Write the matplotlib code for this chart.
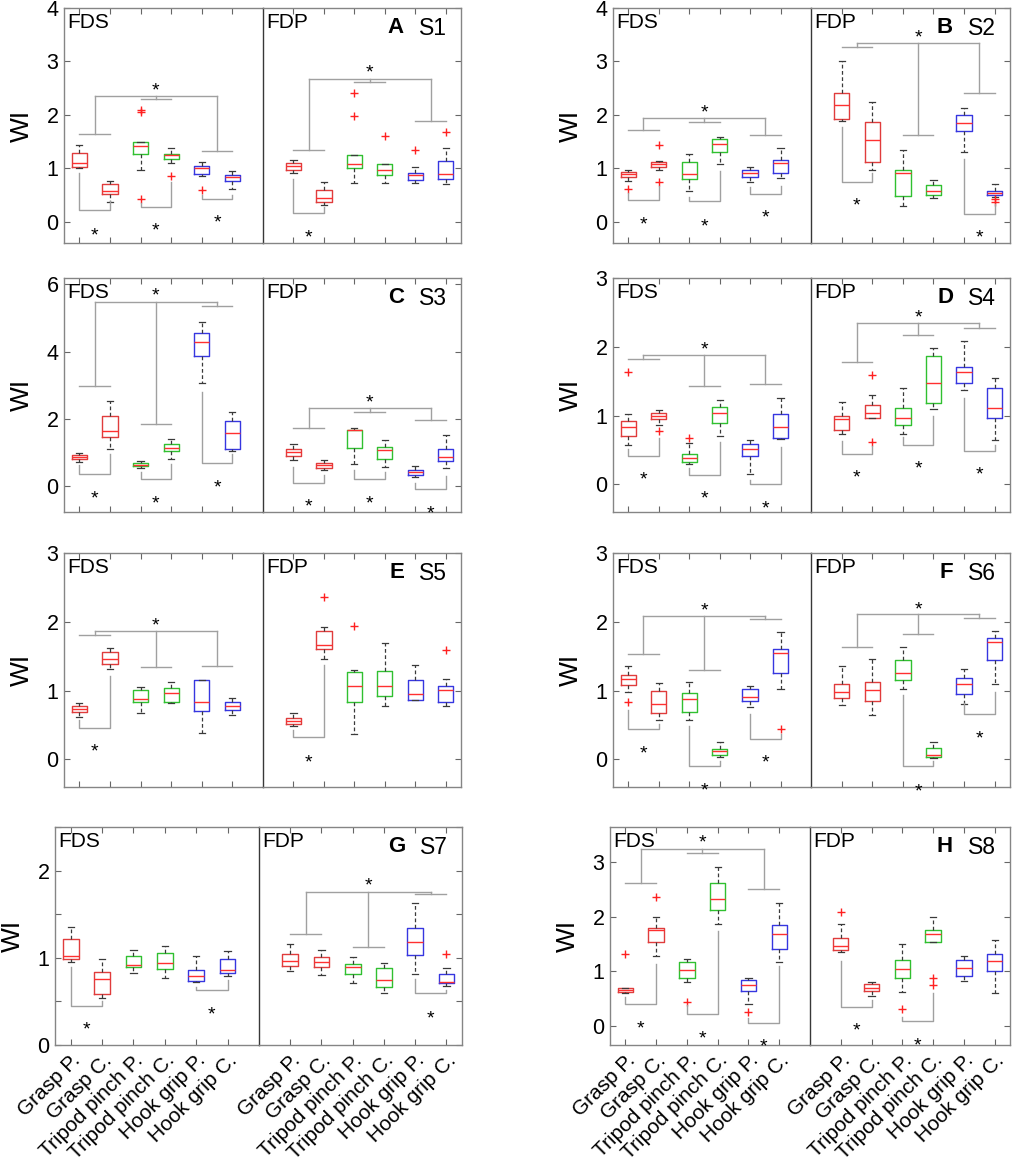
import matplotlib
matplotlib.use("Agg")
import matplotlib.pyplot as plt

plt.rcParams["font.family"] = ["Liberation Sans", "DejaVu Sans"]

TASKS = ["Grasp P.", "Grasp C.", "Tripod pinch P.", "Tripod pinch C.", "Hook grip P.", "Hook grip C."]
BOX_COLORS = ["#e03c3c", "#e03c3c", "#30c030", "#30c030", "#3636e0", "#3636e0"]

# box stats per task: [whisker low, q1, median, q3, whisker high]
A_FDS = [[1.00, 1.02, 1.09, 1.28, 1.44], [0.36, 0.51, 0.565, 0.70, 0.765], [0.96, 1.27, 1.41, 1.50, 1.50],
         [1.09, 1.18, 1.25, 1.27, 1.38], [0.86, 0.90, 1.00, 1.05, 1.11], [0.62, 0.765, 0.83, 0.87, 0.94]]
A_FDS_OUT = [[], [], [2.09, 2.05, 0.43], [0.86], [0.60], []]
A_FDP = [[0.91, 0.97, 1.05, 1.10, 1.15], [0.31, 0.36, 0.44, 0.60, 0.75], [0.72, 1.00, 1.07, 1.24, 1.24],
         [0.73, 0.88, 0.97, 1.07, 1.08], [0.72, 0.78, 0.865, 0.92, 1.03], [0.70, 0.80, 0.89, 1.13, 1.38]]
A_FDP_OUT = [[], [], [2.41, 1.97], [1.60], [1.34], [1.67]]

B_FDS = [[0.76, 0.83, 0.89, 0.93, 0.96], [0.96, 1.02, 1.07, 1.12, 1.14], [0.58, 0.80, 0.90, 1.11, 1.27],
         [1.08, 1.30, 1.45, 1.54, 1.59], [0.74, 0.83, 0.91, 0.96, 1.02], [0.82, 0.92, 1.09, 1.15, 1.37]]
B_FDS_OUT = [[0.61], [1.44, 0.75], [], [], [], []]
B_FDP = [[1.89, 1.93, 2.19, 2.40, 3.00], [0.97, 1.11, 1.52, 1.87, 2.24], [0.30, 0.48, 0.91, 0.96, 1.35],
         [0.44, 0.50, 0.58, 0.68, 0.78], [1.30, 1.69, 1.84, 1.99, 2.13], [0.47, 0.50, 0.545, 0.58, 0.70]]
B_FDP_OUT = [[], [], [], [], [], [0.42, 0.36]]

C_FDS = [[0.72, 0.81, 0.88, 0.93, 0.98], [1.11, 1.46, 1.64, 2.09, 2.52], [0.55, 0.59, 0.64, 0.69, 0.76],
         [0.81, 1.03, 1.14, 1.26, 1.41], [3.07, 3.86, 4.29, 4.54, 4.89], [1.04, 1.09, 1.58, 1.94, 2.20]]
C_FDS_OUT = [[], [], [], [], [], []]
C_FDP = [[0.79, 0.91, 1.01, 1.11, 1.24], [0.47, 0.55, 0.62, 0.70, 0.79], [0.67, 1.14, 1.68, 1.68, 1.73],
         [0.57, 0.81, 1.06, 1.16, 1.38], [0.27, 0.32, 0.42, 0.49, 0.60], [0.55, 0.76, 0.86, 1.11, 1.51]]
C_FDP_OUT = [[], [], [], [], [], []]

D_FDS = [[0.57, 0.70, 0.83, 0.92, 1.03], [0.86, 0.95, 1.00, 1.04, 1.08], [0.30, 0.33, 0.38, 0.45, 0.60],
         [0.71, 0.89, 1.04, 1.13, 1.23], [0.155, 0.41, 0.52, 0.59, 0.64], [0.66, 0.68, 0.83, 1.02, 1.26]]
D_FDS_OUT = [[1.63], [0.77], [0.67], [], [], []]
D_FDP = [[0.74, 0.79, 0.95, 0.995, 1.20], [0.97, 0.97, 1.04, 1.15, 1.30], [0.73, 0.86, 0.96, 1.11, 1.40],
         [1.09, 1.18, 1.47, 1.87, 1.98], [1.37, 1.47, 1.64, 1.71, 2.09], [0.64, 0.96, 1.11, 1.40, 1.55]]
D_FDP_OUT = [[], [1.59, 0.62], [], [], [], []]

E_FDS = [[0.62, 0.69, 0.73, 0.78, 0.82], [1.31, 1.39, 1.46, 1.56, 1.62], [0.67, 0.83, 0.88, 1.01, 1.06],
         [0.82, 0.83, 0.96, 1.04, 1.13], [0.39, 0.70, 0.83, 1.16, 1.16], [0.64, 0.72, 0.77, 0.84, 0.89]]
E_FDS_OUT = [[], [], [], [], [], []]
E_FDP = [[0.48, 0.51, 0.56, 0.60, 0.67], [1.46, 1.60, 1.66, 1.86, 1.92], [0.37, 0.83, 1.07, 1.27, 1.30],
         [0.77, 0.92, 1.07, 1.29, 1.69], [0.87, 0.87, 0.95, 1.16, 1.37], [0.78, 0.84, 1.01, 1.07, 1.17]]
E_FDP_OUT = [[], [2.36], [1.94], [], [], [1.59]]

F_FDS = [[0.985, 1.08, 1.17, 1.23, 1.36], [0.58, 0.67, 0.81, 1.00, 1.11], [0.57, 0.69, 0.88, 0.97, 1.12],
         [0.04, 0.07, 0.13, 0.15, 0.26], [0.76, 0.85, 0.91, 1.02, 1.07], [1.02, 1.25, 1.54, 1.60, 1.85]]
F_FDS_OUT = [[0.83], [], [], [], [], [0.44]]
F_FDP = [[0.79, 0.89, 0.98, 1.09, 1.36], [0.65, 0.85, 1.01, 1.13, 1.46], [1.02, 1.15, 1.26, 1.44, 1.64],
         [0.015, 0.03, 0.07, 0.17, 0.25], [0.81, 0.95, 1.09, 1.18, 1.32], [1.09, 1.44, 1.70, 1.76, 1.87]]
F_FDP_OUT = [[], [], [], [], [], []]

G_FDS = [[0.95, 0.985, 1.02, 1.21, 1.35], [0.54, 0.58, 0.76, 0.84, 0.985], [0.82, 0.89, 0.92, 1.02, 1.09],
         [0.77, 0.87, 0.935, 1.05, 1.14], [0.72, 0.73, 0.795, 0.86, 1.02], [0.795, 0.82, 0.86, 0.985, 1.08]]
G_FDS_OUT = [[], [], [], [], [], []]
G_FDP = [[0.85, 0.905, 0.965, 1.04, 1.16], [0.80, 0.89, 0.955, 1.01, 1.09], [0.715, 0.81, 0.90, 0.93, 1.01],
         [0.60, 0.67, 0.74, 0.885, 0.935], [0.81, 1.03, 1.18, 1.34, 1.63], [0.68, 0.71, 0.726, 0.81, 0.885]]
G_FDP_OUT = [[], [], [], [], [], [1.04]]

H_FDS = [[0.61, 0.62, 0.66, 0.69, 0.70], [1.27, 1.53, 1.75, 1.79, 2.00], [0.80, 0.88, 1.02, 1.16, 1.23],
         [1.87, 2.13, 2.33, 2.62, 2.90], [0.40, 0.63, 0.745, 0.835, 0.87], [1.16, 1.41, 1.69, 1.84, 2.24]]
H_FDS_OUT = [[1.32], [2.35], [0.44], [], [0.26], []]
H_FDP = [[1.35, 1.38, 1.46, 1.60, 1.87], [0.555, 0.63, 0.695, 0.76, 0.80], [0.62, 0.88, 1.05, 1.21, 1.49],
         [1.53, 1.53, 1.68, 1.76, 2.00], [0.83, 0.92, 1.06, 1.20, 1.27], [0.60, 1.00, 1.18, 1.32, 1.58]]
H_FDP_OUT = [[2.08], [], [0.31], [0.88, 0.74], [], []]

# significance brackets between P./C. of a task: (first box, top left, bottom, top right, star y)
A_FDS_PAIRS = [(1, 0.91, 0.21, 0.38, -0.14), (3, 0.34, 0.27, 0.75, -0.06), (5, 0.50, 0.42, 0.50, 0.09)]
A_FDP_PAIRS = [(1, 0.80, 0.16, 0.27, -0.19)]
B_FDS_PAIRS = [(1, 0.53, 0.41, 0.66, 0.06), (3, 0.47, 0.38, 0.94, 0.03), (5, 0.65, 0.52, 0.67, 0.19)]
B_FDP_PAIRS = [(1, 1.77, 0.75, 0.91, 0.42), (5, 1.17, 0.14, 0.33, -0.19)]
C_FDS_PAIRS = [(1, 0.62, 0.35, 0.96, -0.18), (3, 0.42, 0.20, 0.67, -0.33), (5, 2.80, 0.69, 0.96, 0.15)]
C_FDP_PAIRS = [(1, 0.57, 0.10, 0.32, -0.43), (3, 0.49, 0.20, 0.42, -0.33), (5, 0.10, -0.10, 0.29, -0.63)]
D_FDS_PAIRS = [(1, 0.51, 0.42, 0.67, 0.16), (3, 0.24, 0.14, 0.62, -0.11), (5, 0.07, 0.0, 0.54, -0.26)]
D_FDP_PAIRS = [(1, 0.63, 0.45, 0.56, 0.19), (3, 0.69, 0.57, 0.995, 0.32), (5, 1.26, 0.49, 0.58, 0.23)]
E_FDS_PAIRS = [(1, 0.57, 0.46, 1.21, 0.21)]
E_FDP_PAIRS = [(1, 0.43, 0.32, 1.37, 0.05)]
F_FDS_PAIRS = [(1, 0.72, 0.44, 0.52, 0.17), (3, 0.48, -0.10, -0.02, -0.36), (5, 0.66, 0.30, 0.37, 0.04)]
F_FDP_PAIRS = [(3, 0.93, -0.10, -0.02, -0.37), (5, 0.82, 0.66, 0.98, 0.40)]
G_FDS_PAIRS = [(1, 0.89, 0.45, 0.50, 0.25), (5, 0.67, 0.63, 0.745, 0.42)]
G_FDP_PAIRS = [(5, 0.76, 0.60, 0.63, 0.38)]
H_FDS_PAIRS = [(1, 0.53, 0.40, 1.14, 0.07), (3, 0.38, 0.22, 1.73, -0.11), (5, 0.15, 0.05, 1.09, -0.27)]
H_FDP_PAIRS = [(1, 1.18, 0.34, 0.48, 0.02), (3, 0.17, 0.09, 0.60, -0.24)]

# bracket across tasks: (grasp bar, pinch bar, hook bar, common bar, star y)
A_FDS_TOP = (1.65, 2.30, 1.32, 2.35, 2.57)
A_FDP_TOP = (1.35, 2.61, 1.88, 2.68, 2.90)
B_FDS_TOP = (1.71, 1.86, 1.63, 1.94, 2.16)
B_FDP_TOP = (3.27, 1.62, 2.40, 3.35, 3.57)
C_FDS_TOP = (2.98, 1.86, 5.35, 5.48, 5.85)
C_FDP_TOP = (1.73, 2.20, 1.98, 2.33, 2.67)
D_FDS_TOP = (1.82, 1.43, 1.46, 1.88, 2.05)
D_FDP_TOP = (1.78, 2.17, 2.28, 2.34, 2.51)
E_FDS_TOP = (1.81, 1.34, 1.36, 1.87, 2.04)
F_FDS_TOP = (1.53, 1.30, 2.04, 2.09, 2.26)
F_FDP_TOP = (1.64, 1.83, 2.05, 2.11, 2.27)
G_FDP_TOP = (1.27, 1.12, 1.73, 1.76, 1.90)
H_FDS_TOP = (2.62, 3.16, 2.51, 3.24, 3.47)

PANELS = [
    ("A", "S1", (A_FDS, A_FDS_OUT, A_FDS_PAIRS, A_FDS_TOP), (A_FDP, A_FDP_OUT, A_FDP_PAIRS, A_FDP_TOP)),
    ("B", "S2", (B_FDS, B_FDS_OUT, B_FDS_PAIRS, B_FDS_TOP), (B_FDP, B_FDP_OUT, B_FDP_PAIRS, B_FDP_TOP)),
    ("C", "S3", (C_FDS, C_FDS_OUT, C_FDS_PAIRS, C_FDS_TOP), (C_FDP, C_FDP_OUT, C_FDP_PAIRS, C_FDP_TOP)),
    ("D", "S4", (D_FDS, D_FDS_OUT, D_FDS_PAIRS, D_FDS_TOP), (D_FDP, D_FDP_OUT, D_FDP_PAIRS, D_FDP_TOP)),
    ("E", "S5", (E_FDS, E_FDS_OUT, E_FDS_PAIRS, E_FDS_TOP), (E_FDP, E_FDP_OUT, E_FDP_PAIRS, None)),
    ("F", "S6", (F_FDS, F_FDS_OUT, F_FDS_PAIRS, F_FDS_TOP), (F_FDP, F_FDP_OUT, F_FDP_PAIRS, F_FDP_TOP)),
    ("G", "S7", (G_FDS, G_FDS_OUT, G_FDS_PAIRS, None), (G_FDP, G_FDP_OUT, G_FDP_PAIRS, G_FDP_TOP)),
    ("H", "S8", (H_FDS, H_FDS_OUT, H_FDS_PAIRS, H_FDS_TOP), (H_FDP, H_FDP_OUT, H_FDP_PAIRS, None)),
]

# layout in pixels: left, divider, right, top, bottom ; y limits ; y ticks ; y tick labels
W, H = 1013, 1170
LAYOUT = {
    "A": ((64, 263, 461, 8, 243), (-0.4, 4), [0, 1, 2, 3, 4], None),
    "B": ((613, 811, 1010, 8, 243), (-0.4, 4), [0, 1, 2, 3, 4], None),
    "C": ((64, 263, 461, 278, 512), (-0.77, 6.19), [0, 2, 4, 6], None),
    "D": ((613, 811, 1010, 278, 512), (-0.4, 3), [0, 1, 2, 3], None),
    "E": ((64, 263, 461, 553, 787), (-0.4, 3), [0, 1, 2, 3], None),
    "F": ((613, 811, 1010, 553, 787), (-0.4, 3), [0, 1, 2, 3], None),
    "G": ((55, 259, 462, 827, 1045), (0, 2.5), [0, 0.5, 1, 1.5, 2, 2.5], ["0", "", "1", "", "2", ""]),
    "H": ((610, 810, 1010, 827, 1045), (-0.35, 3.64), [0, 1, 2, 3], None),
}

FRAME = "#858585"
BRACKET = "#a0a0a0"
PX = 0.72  # points per pixel at dpi 100


def draw_boxes(ax, stats, outliers):
    bstats = [dict(whislo=s[0], q1=s[1], med=s[2], q3=s[3], whishi=s[4], fliers=o)
              for s, o in zip(stats, outliers)]
    art = ax.bxp(bstats, positions=range(1, 7), widths=0.5, capwidths=0.2, manage_ticks=False,
                 boxprops=dict(lw=1.0),
                 medianprops=dict(color="#ff3030", lw=1.0),
                 whiskerprops=dict(color="#3a3a3a", lw=0.9, linestyle=(0, (3, 2))),
                 capprops=dict(color="#3a3a3a", lw=0.9),
                 flierprops=dict(marker="+", markeredgecolor="#ff2020", markersize=6, mew=1.0,
                                 linestyle="none"))
    for b, c in zip(art["boxes"], BOX_COLORS):
        b.set_color(c)


def star(ax, x, y):
    ax.annotate("*", (x, y), xytext=(0, -8), textcoords="offset points", ha="center",
                va="baseline", fontsize=14, annotation_clip=False)


def draw_brackets(ax, pairs, top):
    for i, ya, ylow, yb, ys in pairs:
        ax.plot([i, i, i + 1, i + 1], [ya, ylow, ylow, yb], color=BRACKET, lw=1.0, clip_on=False)
        star(ax, i + 0.5, ys)
    if top is None:
        return
    *bars, yh, ys = top
    for k, yb in enumerate(bars):
        x0 = 2 * k + 1
        ax.plot([x0, x0 + 1], [yb, yb], color=BRACKET, lw=1.0)
        ax.plot([x0 + 0.5, x0 + 0.5], [yb, yh], color=BRACKET, lw=1.0)
    ax.plot([1.5, 5.5], [yh, yh], color=BRACKET, lw=1.0)
    star(ax, 3.5, ys)


fig = plt.figure(figsize=(W / 100, H / 100), dpi=100)

for letter, subject, fds, fdp in PANELS:
    (x0, xm, x1, top, bottom), ylim, yticks, ylabels = LAYOUT[letter]
    bottom_row = letter in ("G", "H")
    ax_s = fig.add_axes([x0 / W, 1 - bottom / H, (xm - x0) / W, (bottom - top) / H])
    ax_p = fig.add_axes([xm / W, 1 - bottom / H, (x1 - xm) / W, (bottom - top) / H])

    for ax, (stats, outs, pairs, topb), name, xlim in ((ax_s, fds, "FDS", (0.5, 7)),
                                                        (ax_p, fdp, "FDP", (0, 6.5))):
        draw_boxes(ax, stats, outs)
        draw_brackets(ax, pairs, topb)
        ax.set_xlim(*xlim)
        ax.set_ylim(*ylim)
        ax.set_xticks(range(1, 7))
        ax.set_yticks(yticks)
        is_fds = ax is ax_s
        if is_fds:
            ax.set_yticklabels(ylabels if ylabels else [f"{t:g}" for t in yticks])
        ax.tick_params(direction="in", length=4, width=0.8, color="#666666", labelsize=15.5,
                       top=True, bottom=True, left=is_fds, right=not is_fds,
                       labelleft=is_fds, labelright=False, pad=4)
        ax.tick_params(axis="x", pad=4)
        if bottom_row:
            ax.set_xticklabels(TASKS, rotation=45, ha="right", va="top", rotation_mode="anchor",
                               fontsize=15)
        else:
            ax.set_xticklabels([])
        for sp in ax.spines.values():
            sp.set_color(FRAME)
            sp.set_linewidth(1.0)
        ax.annotate(name, (0, 1), xycoords="axes fraction", xytext=(3 * PX, -5 * PX),
                    textcoords="offset points", ha="left", va="top", fontsize=15)

    ax_s.spines["right"].set_visible(False)
    ax_p.spines["left"].set_color("#383838")
    ax_p.annotate(letter, (1, 1), xycoords="axes fraction", xytext=(-57 * PX, -9 * PX),
                  textcoords="offset points", ha="right", va="top", fontsize=16, fontweight="bold")
    ax_p.annotate(subject, (1, 1), xycoords="axes fraction", xytext=(-14 * PX, -9 * PX),
                  textcoords="offset points", ha="right", va="top", fontsize=16.5)
    fig.text((x0 - 42) / W, 1 - (top + bottom) / 2 / H, "WI", rotation=90, ha="center",
             va="center", fontsize=19)

fig.savefig("out.png", dpi=100)
